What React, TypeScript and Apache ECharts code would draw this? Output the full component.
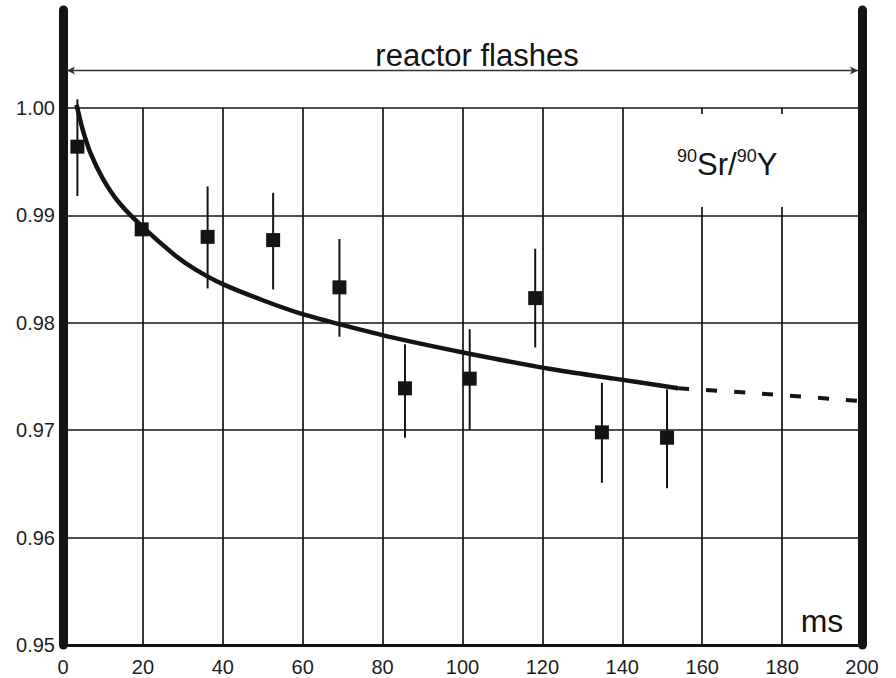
import React, { useEffect, useRef } from "react";
import * as echarts from "echarts";

// x-axis ticks (ms) and y-axis ticks
const xTicks = [0, 20, 40, 60, 80, 100, 120, 140, 160, 180, 200];
const yTicks = [0.95, 0.96, 0.97, 0.98, 0.99, 1.0];

// measured points (ms, ratio) with error bar ends
const pointX = [3.6, 19.7, 36.2, 52.6, 69.2, 85.6, 101.8, 118.2, 134.9, 151.2];
const pointY = [0.9964, 0.9887, 0.988, 0.9877, 0.9833, 0.9739, 0.9748, 0.9823, 0.9698, 0.9693];
const errLow = [0.9918, 0.9882, 0.9832, 0.9831, 0.9787, 0.9693, 0.97, 0.9777, 0.9651, 0.9646];
const errHigh = [1.0008, 0.9892, 0.9927, 0.9921, 0.9878, 0.978, 0.9794, 0.9869, 0.9744, 0.9738];

// fitted curve (solid part) and its extrapolation (dashed part)
const curveX = [3.4, 5, 7, 10, 14, 20, 28, 33, 40, 50, 60, 72, 84, 102, 122, 138, 154];
const curveY = [1.0003, 0.9979, 0.9957, 0.9934, 0.9912, 0.9889, 0.9863, 0.985, 0.9836, 0.9821, 0.9808, 0.9796, 0.9785, 0.9771, 0.9757, 0.9748, 0.9739];
const dashX = [154, 175, 200];
const dashY = [0.9739, 0.9734, 0.9727];

// "reactor flashes" arrow level
const arrowY = 1.0035;
const arrowFrom = 1;
const arrowTo = 199;

const W = 896;
const H = 678;
const LEFT = 63;
const RIGHT = 34;
const BOTTOM = 33;
const TOP_OUTER = 10;
const TOP_INNER = 108;
const yMin = yTicks[0];
const yMaxInner = yTicks[yTicks.length - 1];
const yMaxOuter = yMin + (yMaxInner - yMin) * ((H - BOTTOM - TOP_OUTER) / (H - BOTTOM - TOP_INNER));

const INK = "#141414";
const FONT = "'Liberation Sans', Arial, sans-serif";

export default function App() {
  const ref = useRef<HTMLDivElement>(null);

  useEffect(() => {
    if (!ref.current) return;
    const chart = echarts.init(ref.current, null, { renderer: "svg" });

    const pts = pointX.map((x, i) => [x, pointY[i]]);
    const errs = pointX.map((x, i) => [x, errLow[i], errHigh[i]]);
    const curve = curveX.map((x, i) => [x, curveY[i]]);
    const dash = dashX.map((x, i) => [x, dashY[i]]);

    const option: any = {
      animation: false,
      backgroundColor: "#ffffff",
      grid: [
        { left: LEFT, right: RIGHT, top: TOP_OUTER, bottom: BOTTOM, containLabel: false, outerBoundsMode: "none" },
        { left: LEFT, right: RIGHT, top: TOP_INNER, bottom: BOTTOM, containLabel: false, outerBoundsMode: "none" },
      ],
      xAxis: [
        {
          gridIndex: 0, type: "value", min: xTicks[0], max: xTicks[xTicks.length - 1],
          axisLine: { show: false }, axisTick: { show: false }, axisLabel: { show: false }, splitLine: { show: false },
        },
        {
          gridIndex: 1, type: "value", min: xTicks[0], max: xTicks[xTicks.length - 1], interval: 20,
          axisLine: { show: true, onZero: false, lineStyle: { color: INK, width: 3 } },
          axisTick: { show: false },
          axisLabel: { color: "#1e1e1e", fontSize: 20, fontFamily: FONT, margin: 12 },
          splitLine: { show: true, lineStyle: { color: INK, width: 1.7 } },
        },
      ],
      yAxis: [
        {
          gridIndex: 0, type: "value", min: yMin, max: yMaxOuter, position: "left",
          axisLine: { show: true, onZero: false, lineStyle: { color: INK, width: 9 } },
          axisTick: { show: false }, axisLabel: { show: false }, splitLine: { show: false },
        },
        {
          gridIndex: 0, type: "value", min: yMin, max: yMaxOuter, position: "right",
          axisLine: { show: true, onZero: false, lineStyle: { color: INK, width: 9 } },
          axisTick: { show: false }, axisLabel: { show: false }, splitLine: { show: false },
        },
        {
          gridIndex: 1, type: "value", min: yMin, max: yMaxInner, interval: 0.01,
          axisLine: { show: false }, axisTick: { show: false },
          axisLabel: {
            color: "#1e1e1e", fontSize: 20, fontFamily: FONT, margin: 8,
            formatter: (v: number) => v.toFixed(2),
          },
          splitLine: { show: true, lineStyle: { color: INK, width: 1.7 } },
        },
      ],
      graphic: [
        {
          type: "rect", z: 1, silent: true,
          shape: { x: 640, y: 114, width: 212, height: 93 },
          style: { fill: "#ffffff" },
        },
        {
          type: "text", z: 2, silent: true,
          x: 677, y: 164,
          style: {
            text: "{sup|90}{b|Sr/}{sup|90}{b|Y}",
            textAlign: "left", textVerticalAlign: "middle",
            fill: INK,
            rich: {
              b: { fontSize: 31, fontFamily: FONT, lineHeight: 34, fill: INK },
              sup: { fontSize: 18, fontFamily: FONT, lineHeight: 22, verticalAlign: "top", fill: INK },
            },
          },
        },
        {
          type: "text", z: 2, silent: true,
          x: 477, y: 55,
          style: {
            text: "reactor flashes", font: `31px ${FONT}`, fill: INK,
            textAlign: "center", textVerticalAlign: "middle",
          },
        },
        {
          type: "text", z: 2, silent: true,
          x: 822, y: 621,
          style: {
            text: "ms", font: `32px ${FONT}`, fill: INK,
            textAlign: "center", textVerticalAlign: "middle",
          },
        },
      ],
      series: [
        {
          type: "line", xAxisIndex: 0, yAxisIndex: 0, data: curve, smooth: 0.3,
          symbol: "none", clip: false, z: 3,
          lineStyle: { color: INK, width: 4.5 },
          markLine: {
            silent: true, symbol: ["arrow", "arrow"], symbolSize: [6, 8],
            label: { show: false },
            lineStyle: { color: "#333", width: 1.4, type: "solid" },
            data: [[{ coord: [arrowFrom, arrowY] }, { coord: [arrowTo, arrowY] }]],
          },
        },
        {
          type: "line", xAxisIndex: 0, yAxisIndex: 0, data: dash, smooth: 0.3,
          symbol: "none", z: 3,
          lineStyle: { color: INK, width: 4, type: [11, 17] },
        },
        {
          type: "custom", xAxisIndex: 0, yAxisIndex: 0, data: errs, clip: false, z: 4,
          encode: { x: 0, y: [1, 2] },
          renderItem: (params: any, api: any) => {
            const x = api.value(0);
            const p1 = api.coord([x, api.value(1)]);
            const p2 = api.coord([x, api.value(2)]);
            return {
              type: "line",
              shape: { x1: p1[0], y1: p1[1], x2: p2[0], y2: p2[1] },
              style: { stroke: INK, lineWidth: 2 },
            };
          },
        },
        {
          type: "scatter", xAxisIndex: 0, yAxisIndex: 0, data: pts, z: 5,
          symbol: "rect", symbolSize: 14,
          itemStyle: { color: INK, opacity: 1 },
        },
      ],
    };

    chart.setOption(option);
    return () => chart.dispose();
  }, []);

  return (
    <div
      ref={ref}
      style={{ position: "fixed", left: 0, top: 0, width: W, height: H, background: "#fff" }}
    />
  );
}
